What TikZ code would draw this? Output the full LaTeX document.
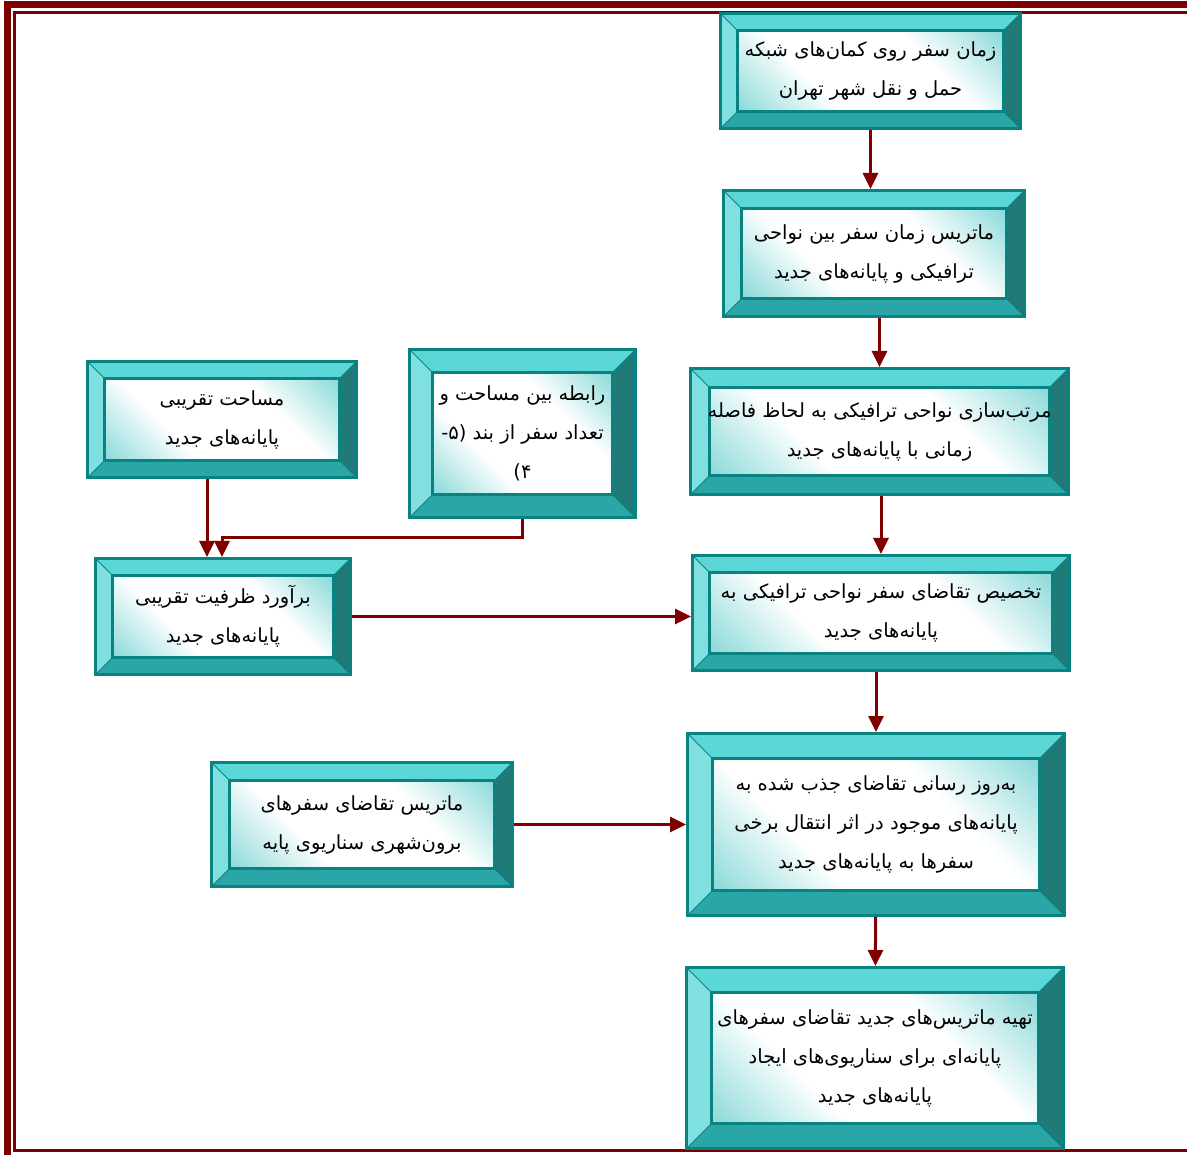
\documentclass[tikz,border=0pt]{standalone}
\usepackage{fontspec}
\usepackage{tikz}
\usetikzlibrary{positioning,arrows.meta,calc}
\TeXXeTstate=1
\newfontfamily\fa[Script=Arabic]{DejaVu Sans}
\newcommand{\rl}[1]{\beginR #1\endR}
\newcommand{\bvfont}{\fa\fontsize{19.5}{39}\selectfont}
\definecolor{bvline}{HTML}{0B8282}
\definecolor{bvtop}{HTML}{5CD7D7}
\definecolor{bvleft}{HTML}{80E0E0}
\definecolor{bvright}{HTML}{1F7A78}
\definecolor{bvbot}{HTML}{2AA6A6}
\definecolor{bvface}{HTML}{66CDCD}
\definecolor{flowred}{HTML}{800000}
\definecolor{pagered}{HTML}{7D0000}
\pgfdeclareverticalshading{bvshade}{100bp}{color(0bp)=(bvface); color(8bp)=(bvface); color(36bp)=(white); color(64bp)=(white); color(92bp)=(bvface); color(100bp)=(bvface)}
\tikzset{bvbox/.style={rectangle, draw=bvline, line width=3pt, inner sep=0pt, align=center, font=\bvfont,
    path picture={
      \coordinate (nw) at (path picture bounding box.north west);
      \coordinate (ne) at (path picture bounding box.north east);
      \coordinate (sw) at (path picture bounding box.south west);
      \coordinate (se) at (path picture bounding box.south east);
      \coordinate (inw) at ($(nw)+(#1pt,-#1pt)$);
      \coordinate (ine) at ($(ne)+(-#1pt,-#1pt)$);
      \coordinate (isw) at ($(sw)+(#1pt,#1pt)$);
      \coordinate (ise) at ($(se)+(-#1pt,#1pt)$);
      \fill[bvtop] (nw) -- (ne) -- (ine) -- (inw) -- cycle;
      \fill[bvbot] (sw) -- (se) -- (ise) -- (isw) -- cycle;
      \fill[bvleft] (nw) -- (sw) -- (isw) -- (inw) -- cycle;
      \fill[bvright] (ne) -- (se) -- (ise) -- (ine) -- cycle;
      \draw[bvline, line width=1pt] (nw) -- (inw) (ne) -- (ine) (sw) -- (isw) (se) -- (ise);
      \shade[shading=bvshade, shading angle=-45] (inw) rectangle (ise);
      \draw[bvline, line width=3pt] (inw) rectangle (ise);
    }},
  bvbox/.default=17}
\tikzset{flow/.style={-{Triangle[length=16pt, width=15pt]}, draw=flowred, line width=3pt}}

\begin{document}
\begin{tikzpicture}[x=1pt, y=-1pt]
  \useasboundingbox (0,0) rectangle (1187,1155);
  % page frame
  \draw[pagered, line width=7pt] (7.5,1170) -- (7.5,4.5) -- (1200,4.5);
  \draw[pagered, line width=2.5pt] (14.5,1150.5) -- (14.5,12.5) -- (1200,12.5);
  \draw[pagered, line width=2.5pt] (13.3,1150.5) -- (1200,1150.5);
  \draw[pagered, line width=7pt] (4,1158) -- (1200,1158);

  % right column
  \node[bvbox, minimum width=300pt, minimum height=115pt] (trtime) at (870.5,71)
    {\rl{زمان سفر روی کمان‌های شبکه}\\\rl{حمل و نقل شهر تهران}};
  \node[bvbox=18, minimum width=301pt, minimum height=126pt] (ttmat) at (874,253.5)
    {\rl{ماتریس زمان سفر بین نواحی}\\\rl{ترافیکی و پایانه‌های جدید}};
  \node[bvbox=19, minimum width=378pt, minimum height=126pt] (zsort) at (879.5,431.5)
    {\rl{مرتب‌سازی نواحی ترافیکی به لحاظ فاصله}\\\rl{زمانی با پایانه‌های جدید}};
  \node[bvbox, minimum width=377pt, minimum height=115pt] (assign) at (881,613)
    {\rl{تخصیص تقاضای سفر نواحی ترافیکی به}\\\rl{پایانه‌های جدید}};
  \node[bvbox=25, minimum width=377pt, minimum height=182pt] (update) at (876,824.5)
    {\rl{به‌روز رسانی تقاضای جذب شده به}\\\rl{پایانه‌های موجود در اثر انتقال برخی}\\\rl{سفرها به پایانه‌های جدید}};
  \node[bvbox=25, minimum width=377pt, minimum height=181pt] (newmat) at (875,1058)
    {\rl{تهیه ماتریس‌های جدید تقاضای سفرهای}\\\rl{پایانه‌ای برای سناریوی‌های ایجاد}\\\rl{پایانه‌های جدید}};

  % left column
  \node[bvbox, minimum width=269pt, minimum height=116pt] (area) at (222,419.5)
    {\rl{مساحت تقریبی}\\\rl{پایانه‌های جدید}};
  \node[bvbox=23, minimum width=226pt, minimum height=168pt] (areltn) at (522.5,433.5)
    {\rl{رابطه بین مساحت و}\\\rl{تعداد سفر از بند (۵-}\\\rl{۴)}};
  \node[bvbox, minimum width=255pt, minimum height=116pt] (capest) at (223,616.5)
    {\rl{برآورد ظرفیت تقریبی}\\\rl{پایانه‌های جدید}};
  \node[bvbox=18, minimum width=301pt, minimum height=124pt] (basemat) at (362,824.5)
    {\rl{ماتریس تقاضای سفرهای}\\\rl{برون‌شهری سناریوی پایه}};

  \coordinate (bend) at (222,538);

  \draw[flow] (trtime) -- (trtime.south |- ttmat.north);
  \draw[flow] (zsort.north |- ttmat.south) -- (zsort.north);
  \draw[flow] (assign.north |- zsort.south) -- (assign.north);
  \draw[flow] (update.north |- assign.south) -- (update.north);
  \draw[flow] (update) -- (newmat);
  \draw[flow] ([xshift=-15pt]area.south) -- ([xshift=-15pt]area.south |- capest.north);
  \draw[flow] (areltn.south) |- (bend) -- (bend |- capest.north);
  \draw[flow] (capest.east) -- (capest.east -| assign.west);
  \draw[flow] (basemat.east) -- (basemat.east -| update.west);
\end{tikzpicture}
\end{document}
